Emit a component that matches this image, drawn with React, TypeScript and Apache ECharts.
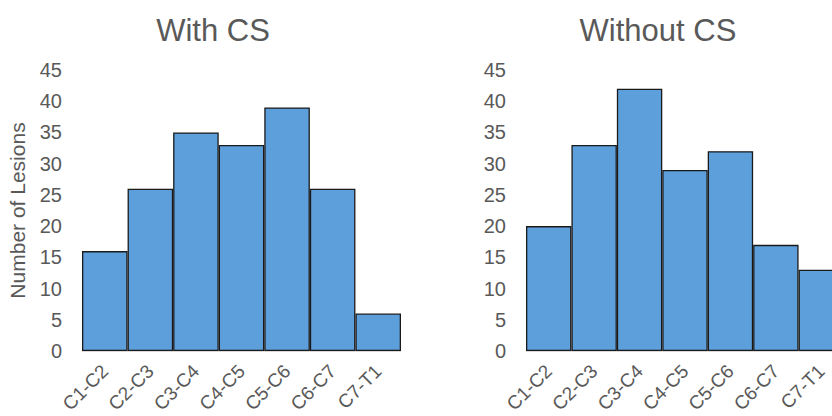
import React, { useEffect, useRef } from "react";
import * as echarts from "echarts";

const categories = ["C1-C2", "C2-C3", "C3-C4", "C4-C5", "C5-C6", "C6-C7", "C7-T1"];
const withCS = [16, 26, 35, 33, 39, 26, 6];
const withoutCS = [20, 33, 42, 29, 32, 17, 13];
const titles = ["With CS", "Without CS"];
const yAxisName = "Number of Lesions";

const FONT = "'Liberation Sans', Arial, Helvetica, sans-serif";
const GRAY = "#595959";

export default function App() {
  const ref = useRef<HTMLDivElement>(null);
  useEffect(() => {
    if (!ref.current) return;
    const chart = echarts.init(ref.current, null, { renderer: "svg" });
    const mkX = (gi: number) => ({
      type: "category",
      gridIndex: gi,
      data: categories,
      axisLine: { show: true, lineStyle: { color: "#d9d9d9", width: 1 } },
      axisTick: { show: false },
      axisLabel: {
        rotate: 45,
        margin: 17,
        fontSize: 19,
        color: GRAY,
        fontFamily: FONT,
        interval: 0,
      },
    });
    const mkY = (gi: number, name?: string) => ({
      type: "value",
      gridIndex: gi,
      min: 0,
      max: 45,
      interval: 5,
      name: name || "",
      nameLocation: "middle",
      nameGap: 54,
      nameTextStyle: { fontSize: 21, color: GRAY, fontFamily: FONT },
      axisLine: { show: false },
      axisTick: { show: false },
      splitLine: { show: false },
      axisLabel: { fontSize: 20, color: GRAY, fontFamily: FONT, margin: 20 },
    });
    const barStyle = {
      color: "#5D9FDB",
      borderColor: "#1a1a1a",
      borderWidth: 1.3,
    };
    chart.setOption({
      animation: false,
      backgroundColor: "#ffffff",
      title: [
        {
          text: titles[0],
          left: 208,
          top: 10,
          textAlign: "center",
          textStyle: { fontSize: 31, fontWeight: "normal", color: GRAY, fontFamily: FONT },
        },
        {
          text: titles[1],
          left: 653,
          top: 10,
          textAlign: "center",
          textStyle: { fontSize: 31, fontWeight: "normal", color: GRAY, fontFamily: FONT },
        },
      ],
      grid: [
        { left: 82, width: 319, top: 70, height: 281, outerBoundsMode: "none", containLabel: false },
        { left: 526, width: 318, top: 70, height: 281, outerBoundsMode: "none", containLabel: false },
      ],
      xAxis: [mkX(0), mkX(1)],
      yAxis: [mkY(0, yAxisName), mkY(1)],
      series: [
        {
          type: "bar",
          xAxisIndex: 0,
          yAxisIndex: 0,
          data: withCS,
          barCategoryGap: "0%",
          itemStyle: barStyle,
        },
        {
          type: "bar",
          xAxisIndex: 1,
          yAxisIndex: 1,
          data: withoutCS,
          barCategoryGap: "0%",
          itemStyle: barStyle,
        },
      ],
    });
    return () => chart.dispose();
  }, []);
  return (
    <div
      ref={ref}
      style={{ position: "fixed", left: 0, top: 0, width: 832, height: 416, background: "#fff" }}
    />
  );
}
